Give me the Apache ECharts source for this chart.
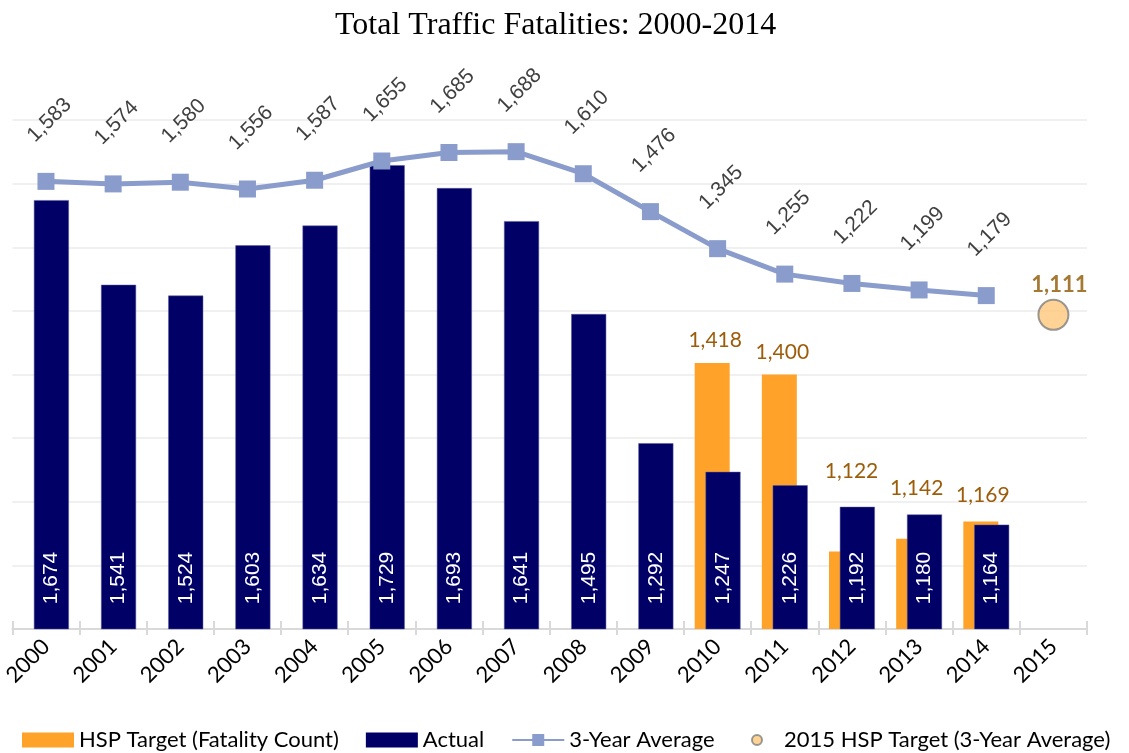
<!DOCTYPE html>
<html>
<head>
<meta charset="utf-8">
<script src="https://cdn.jsdelivr.net/npm/echarts@6/dist/echarts.min.js"></script>
<style>html,body{margin:0;padding:0;background:#fff;}#c{width:1129px;height:753px;}</style>
</head>
<body>
<div id="c"></div>
<script>
const years = ['2000','2001','2002','2003','2004','2005','2006','2007','2008','2009','2010','2011','2012','2013','2014','2015'];
const hspTarget = [null,null,null,null,null,null,null,null,null,null,1418,1400,1122,1142,1169,null];
const actual = [1674,1541,1524,1603,1634,1729,1693,1641,1495,1292,1247,1226,1192,1180,1164,null];
const threeYearAvg = [1583,1574,1580,1556,1587,1655,1685,1688,1610,1476,1345,1255,1222,1199,1179,null];
const target2015 = [null,null,null,null,null,null,null,null,null,null,null,null,null,null,null,1111];

const fmt = v => Number(v).toLocaleString('en-US');
// label nudges for the HSP target labels (placed above the overlapping Actual bars, as in the source)
const targetLabelOffsets = {10: [3, 0], 11: [3, 0], 12: [5, -58], 13: [3, -28], 14: [2, -4]};
const hspData = hspTarget.map((v, i) => targetLabelOffsets[i] ? { value: v, label: { offset: targetLabelOffsets[i] } } : v);

const chart = echarts.init(document.getElementById('c'));
chart.setOption({
  animation: false,
  backgroundColor: '#fff',
  title: {
    text: 'Total Traffic Fatalities: 2000-2014',
    left: 330, top: 5,
    textStyle: { fontFamily: 'Liberation Serif', fontSize: 32, fontWeight: 'normal', color: '#000' }
  },
  legend: [{
    left: 17, top: 724,
    itemWidth: 52, itemHeight: 15, itemGap: 27,
    textStyle: { fontFamily: 'Lato', fontSize: 22, color: '#000' },
    itemStyle: { borderWidth: 0 },
    data: [
      { name: 'HSP Target (Fatality Count)', icon: 'rect' },
      { name: 'Actual', icon: 'rect' },
      { name: '3-Year Average' }
    ]
  }, {
    left: 746, top: 724,
    itemWidth: 44, itemHeight: 10,
    textStyle: { fontFamily: 'Lato', fontSize: 22, color: '#000' },
    data: [{ name: '2015 HSP Target (3-Year Average)', icon: 'circle' }]
  }],
  grid: { left: 12, right: 42, top: 120, bottom: 124, containLabel: false },
  xAxis: [{
    type: 'category', data: years,
    axisLine: { lineStyle: { color: '#d9d9d9', width: 2 } },
    axisTick: { show: true, inside: true, length: 8, lineStyle: { color: '#d9d9d9', width: 2 } },
    axisLabel: { rotate: 45, margin: 14, fontFamily: 'Lato', fontSize: 22, color: '#000', interval: 0 }
  }, {
    type: 'category', data: years, position: 'bottom',
    axisLine: { show: false },
    axisTick: { show: true, length: 6, lineStyle: { color: '#d9d9d9', width: 2 } },
    axisLabel: { show: false }
  }],
  yAxis: [{
    type: 'value', min: 1000, max: 1800, interval: 100,
    axisLabel: { show: false }, axisLine: { show: false }, axisTick: { show: false },
    splitLine: { lineStyle: { color: '#ebebeb', width: 1.5 } }
  }, {
    type: 'value', min: 0, max: 1800,
    axisLabel: { show: false }, axisLine: { show: false }, axisTick: { show: false },
    splitLine: { show: false }
  }],
  series: [{
    name: 'HSP Target (Fatality Count)', type: 'bar', data: hspData,
    barWidth: 35, barGap: '-69%',
    itemStyle: { color: '#FFA229' },
    label: { show: true, position: 'top', distance: 12, formatter: p => fmt(p.value),
      fontFamily: 'Lato', fontSize: 21, color: '#9C5D0A' }
  }, {
    name: 'Actual', type: 'bar', data: actual,
    barWidth: 35, barGap: '-69%',
    itemStyle: { color: '#000066', borderColor: '#5b5b9a', borderWidth: 0.5 },
    label: { show: true, position: 'insideBottom', distance: 25, rotate: 90,
      align: 'left', verticalAlign: 'middle', formatter: p => fmt(p.value),
      fontFamily: 'Liberation Sans', fontSize: 21, color: '#fff' }
  }, {
    name: '3-Year Average', type: 'line', yAxisIndex: 1, data: threeYearAvg,
    symbol: 'rect', symbolSize: 17,
    lineStyle: { color: '#8A9CCC', width: 5 },
    itemStyle: { color: '#8A9CCC' },
    label: { show: true, position: 'top', distance: 49, rotate: 45,
      align: 'center', verticalAlign: 'middle', offset: [5, 0], formatter: p => fmt(p.value),
      fontFamily: 'Liberation Sans', fontSize: 21, color: '#404040' },
    z: 5
  }, {
    name: '2015 HSP Target (3-Year Average)', type: 'scatter', yAxisIndex: 1, data: target2015,
    symbol: 'circle', symbolSize: 30,
    itemStyle: { color: '#FFC87A', borderColor: '#808080', borderWidth: 2 },
    label: { show: true, position: 'top', distance: 3, offset: [6, 0], formatter: p => fmt(p.value),
      fontFamily: 'Lato', fontSize: 22, fontWeight: 'bold', color: '#8F5700' },
    z: 6
  }]
});
</script>
</body>
</html>
